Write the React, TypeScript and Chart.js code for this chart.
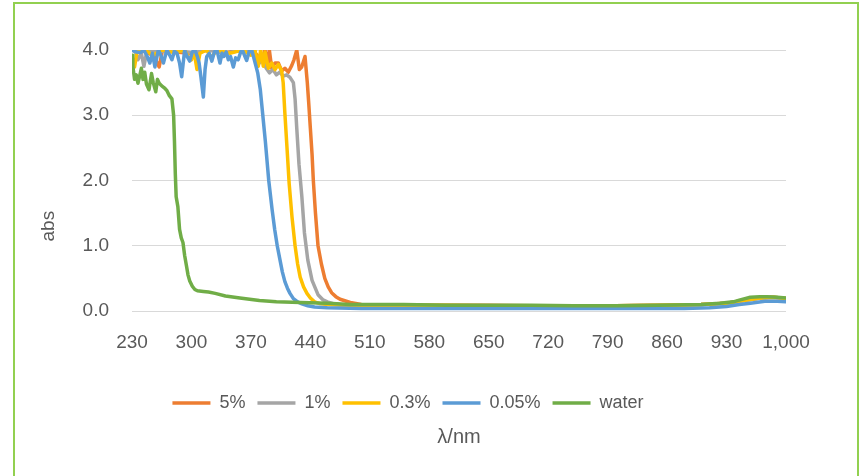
import React, { useEffect, useRef } from "react";
import { Chart, registerables } from "chart.js";

Chart.register(...registerables);

const xTicks = [230, 300, 370, 440, 510, 580, 650, 720, 790, 860, 930, 1000];
const yTicks = [0, 1, 2, 3, 4];
const seriesNames = ["5%", "1%", "0.3%", "0.05%", "water"];
const seriesColors = ["#ED7D31", "#A5A5A5", "#FFC000", "#5B9BD5", "#70AD47"];

const nm5 = [230, 240, 250, 256, 262, 266, 280, 300, 320, 340, 360, 375, 383, 386.6, 389.3, 391.7, 394.5, 398.4, 402.3, 406.2, 410, 414, 418, 420.7, 424, 427, 429.8, 433.7, 436.4, 438, 440, 442, 443.5, 446, 449, 453, 457, 461, 465, 470, 475, 487, 500, 550, 600, 650, 700, 750, 800, 850, 900, 930, 950, 970, 985, 1000];
const abs5 = [4.0, 4.0, 3.95, 3.9, 3.74, 4.0, 3.97, 3.95, 4.0, 3.96, 4.0, 3.95, 3.85, 4.0, 3.8, 4.0, 3.72, 3.8, 3.8, 3.68, 3.72, 3.66, 3.76, 3.85, 4.0, 3.7, 3.74, 3.9, 3.5, 3.2, 2.8, 2.4, 2.0, 1.5, 1.0, 0.72, 0.5, 0.37, 0.28, 0.22, 0.18, 0.13, 0.1, 0.09, 0.09, 0.09, 0.08, 0.08, 0.08, 0.09, 0.1, 0.12, 0.16, 0.2, 0.21, 0.19];

const nm1 = [230, 234, 237, 241, 244, 247, 250, 260, 280, 300, 320, 340, 360, 372, 376, 380, 384, 388, 392, 396, 400, 404, 408, 412, 416, 420, 422, 424, 426.6, 430, 433, 437, 442, 449, 455, 460, 468, 475, 490, 550, 600, 650, 700, 750, 800, 850, 900, 930, 950, 970, 985, 1000];
const abs1 = [4.0, 3.97, 3.85, 3.95, 3.75, 3.95, 4.0, 3.97, 4.0, 3.96, 4.0, 3.95, 4.0, 3.97, 3.9, 3.8, 3.85, 3.72, 3.65, 3.7, 3.62, 3.66, 3.6, 3.62, 3.58, 3.5, 3.25, 2.8, 2.25, 1.75, 1.2, 0.78, 0.47, 0.25, 0.17, 0.14, 0.11, 0.1, 0.09, 0.09, 0.09, 0.08, 0.08, 0.08, 0.08, 0.09, 0.1, 0.12, 0.16, 0.2, 0.21, 0.19];

const nm03 = [230, 233, 236, 245, 255, 265, 280, 292, 296, 300, 303, 306.5, 310, 318, 323, 330, 345, 360, 370, 374.8, 378.7, 381.5, 384.6, 386.6, 390.5, 394.5, 398.4, 402.3, 406.2, 408, 410, 412.5, 415, 418.4, 422, 425, 428, 432, 436, 440, 445, 452, 460, 480, 550, 600, 650, 700, 750, 800, 850, 900, 930, 950, 970, 985, 1000];
const abs03 = [3.9, 3.74, 3.98, 4.0, 3.92, 4.0, 3.96, 4.0, 3.9, 3.85, 3.98, 3.7, 3.95, 4.0, 3.88, 4.0, 3.95, 4.0, 3.92, 4.0, 3.75, 4.0, 3.75, 3.97, 3.72, 3.8, 3.7, 3.78, 3.68, 3.5, 3.03, 2.5, 1.96, 1.44, 1.0, 0.72, 0.52, 0.37, 0.27, 0.2, 0.14, 0.11, 0.1, 0.09, 0.09, 0.09, 0.08, 0.08, 0.08, 0.08, 0.09, 0.1, 0.12, 0.16, 0.2, 0.21, 0.19];

const nm005 = [230, 235, 240, 244, 248, 251, 254, 257, 261, 264, 267, 271, 274, 277, 280, 283, 286, 288.5, 292, 295, 298, 301, 304, 307, 309, 311, 314, 316, 318, 321, 324, 327, 330, 333.6, 336, 338, 341, 343.4, 346, 349.3, 352, 355, 358, 360, 363, 365, 368, 371, 375, 378, 381, 384, 387, 391, 395, 398, 401, 404, 407, 410, 413, 416, 420, 425, 430, 437, 445, 460, 500, 600, 700, 800, 880, 910, 930, 945, 958, 975, 990, 1000];
const abs005 = [4.0, 3.97, 3.96, 4.0, 3.9, 3.8, 3.95, 3.74, 4.0, 3.92, 3.8, 4.0, 3.93, 3.85, 3.98, 3.95, 3.8, 3.59, 4.0, 3.9, 3.83, 3.97, 4.0, 3.9, 3.8, 3.6, 3.28, 3.7, 3.9, 3.95, 3.83, 3.97, 4.0, 3.8, 3.95, 3.9, 3.97, 3.85, 3.9, 3.74, 3.88, 3.85, 3.97, 4.0, 3.9, 3.84, 3.98, 4.0, 3.8, 3.65, 3.4, 3.0, 2.6, 2.0, 1.55, 1.25, 1.0, 0.8, 0.6, 0.45, 0.35, 0.27, 0.19, 0.14, 0.11, 0.08, 0.06, 0.05, 0.04, 0.04, 0.04, 0.04, 0.04, 0.05, 0.07, 0.1, 0.12, 0.15, 0.15, 0.14];

const nmWater = [230, 231, 233, 235, 237, 239, 241, 243, 245, 247, 250, 253, 255, 258, 260, 262, 265, 268, 271, 274, 277, 279, 280, 281, 282, 284, 286, 288, 290, 292, 294, 296, 298, 301, 304, 307, 314, 320, 328, 340, 357, 380, 400, 428, 460, 487, 550, 600, 650, 700, 750, 800, 850, 900, 922, 938, 946, 958, 969, 978, 990, 1000];
const absWater = [3.92, 3.75, 3.55, 3.62, 3.49, 3.6, 3.72, 3.55, 3.66, 3.48, 3.39, 3.64, 3.5, 3.36, 3.55, 3.49, 3.45, 3.42, 3.38, 3.3, 3.25, 3.0, 2.6, 2.1, 1.75, 1.6, 1.25, 1.12, 1.05, 0.85, 0.7, 0.55, 0.46, 0.38, 0.33, 0.31, 0.3, 0.29, 0.27, 0.23, 0.2, 0.16, 0.14, 0.13, 0.12, 0.1, 0.1, 0.09, 0.09, 0.09, 0.08, 0.08, 0.09, 0.1, 0.12, 0.14, 0.17, 0.21, 0.22, 0.22, 0.21, 0.2];

const TEXT = "#595959";
const FONT = "'Liberation Sans', Arial, sans-serif";

export default function App() {
  const ref = useRef<HTMLCanvasElement>(null);

  useEffect(() => {
    const canvas = ref.current;
    if (!canvas) return;
    Chart.defaults.font.family = FONT;
    const mk = (nm: number[], v: number[]) => nm.map((x, i) => ({ x, y: v[i] }));
    const series = [
      { i: 4, data: mk(nmWater, absWater) },
      { i: 3, data: mk(nm005, abs005) },
      { i: 2, data: mk(nm03, abs03) },
      { i: 1, data: mk(nm1, abs1) },
      { i: 0, data: mk(nm5, abs5) },
    ];
    const datasets = series.map((s) => ({
      label: seriesNames[s.i],
      data: s.data,
      borderColor: seriesColors[s.i],
      backgroundColor: seriesColors[s.i],
      borderWidth: 3.5,
      borderCapStyle: "round" as const,
      borderJoinStyle: "round" as const,
      pointRadius: 0,
      tension: 0,
    }));

    const absTitle = {
      id: "absTitle",
      afterDraw(chart: any) {
        const { ctx, chartArea } = chart;
        ctx.save();
        ctx.translate(chartArea.left - 83, chartArea.top + (chartArea.bottom - chartArea.top) * 0.675);
        ctx.rotate(-Math.PI / 2);
        ctx.font = `19px ${FONT}`;
        ctx.fillStyle = TEXT;
        ctx.textAlign = "center";
        ctx.textBaseline = "middle";
        ctx.fillText("abs", 0, 0);
        ctx.restore();
      },
    };

    const chart = new Chart(canvas, {
      type: "line",
      data: { datasets },
      options: {
        animation: false,
        responsive: false,
        devicePixelRatio: 1,
        layout: { padding: { top: 50, right: 77, bottom: 27, left: 30 } },
        scales: {
          x: {
            type: "linear",
            min: 230,
            max: 1000,
            afterBuildTicks: (s: any) => {
              s.ticks = xTicks.map((value) => ({ value }));
            },
            afterFit: (s: any) => {
              s.height = 71;
            },
            grid: { display: false },
            border: { display: false },
            ticks: {
              padding: 12,
              color: TEXT,
              font: { size: 19 },
              maxRotation: 0,
              autoSkip: false,
              callback: (v: any) => Number(v).toLocaleString("en-US"),
            },
          },
          y: {
            type: "linear",
            min: 0,
            max: 4,
            afterBuildTicks: (s: any) => {
              s.ticks = yTicks.map((value) => ({ value }));
            },
            afterFit: (s: any) => {
              s.width = 102;
            },
            grid: { color: "#D9D9D9", lineWidth: 1, drawTicks: false },
            border: { display: false },
            ticks: {
              padding: 23,
              color: TEXT,
              font: { size: 19 },
              callback: (v: any) => Number(v).toFixed(1),
            },
          },
        },
        plugins: {
          legend: {
            position: "bottom",
            reverse: true,
            labels: {
              usePointStyle: true,
              pointStyle: "line",
              pointStyleWidth: 38,
              padding: 12,
              color: TEXT,
              font: { size: 18 },
            },
          },
          title: {
            display: true,
            text: "λ/nm",
            position: "bottom",
            fullSize: false,
            color: TEXT,
            font: { size: 20, weight: "normal" },
            padding: { top: 3, bottom: 0 },
          },
          tooltip: { enabled: false },
        },
      },
      plugins: [absTitle],
    } as any);

    return () => chart.destroy();
  }, []);

  return (
    <div style={{ position: "absolute", left: 0, top: 0, width: 863, height: 476, overflow: "hidden", background: "#fff" }}>
      <canvas ref={ref} width={863} height={476} style={{ position: "absolute", left: 0, top: 0 }} />
      <div
        style={{
          position: "absolute",
          left: 13,
          top: 2,
          width: 846,
          height: 474,
          boxSizing: "border-box",
          border: "2px solid #92D050",
          borderBottom: "none",
          pointerEvents: "none",
        }}
      />
    </div>
  );
}
